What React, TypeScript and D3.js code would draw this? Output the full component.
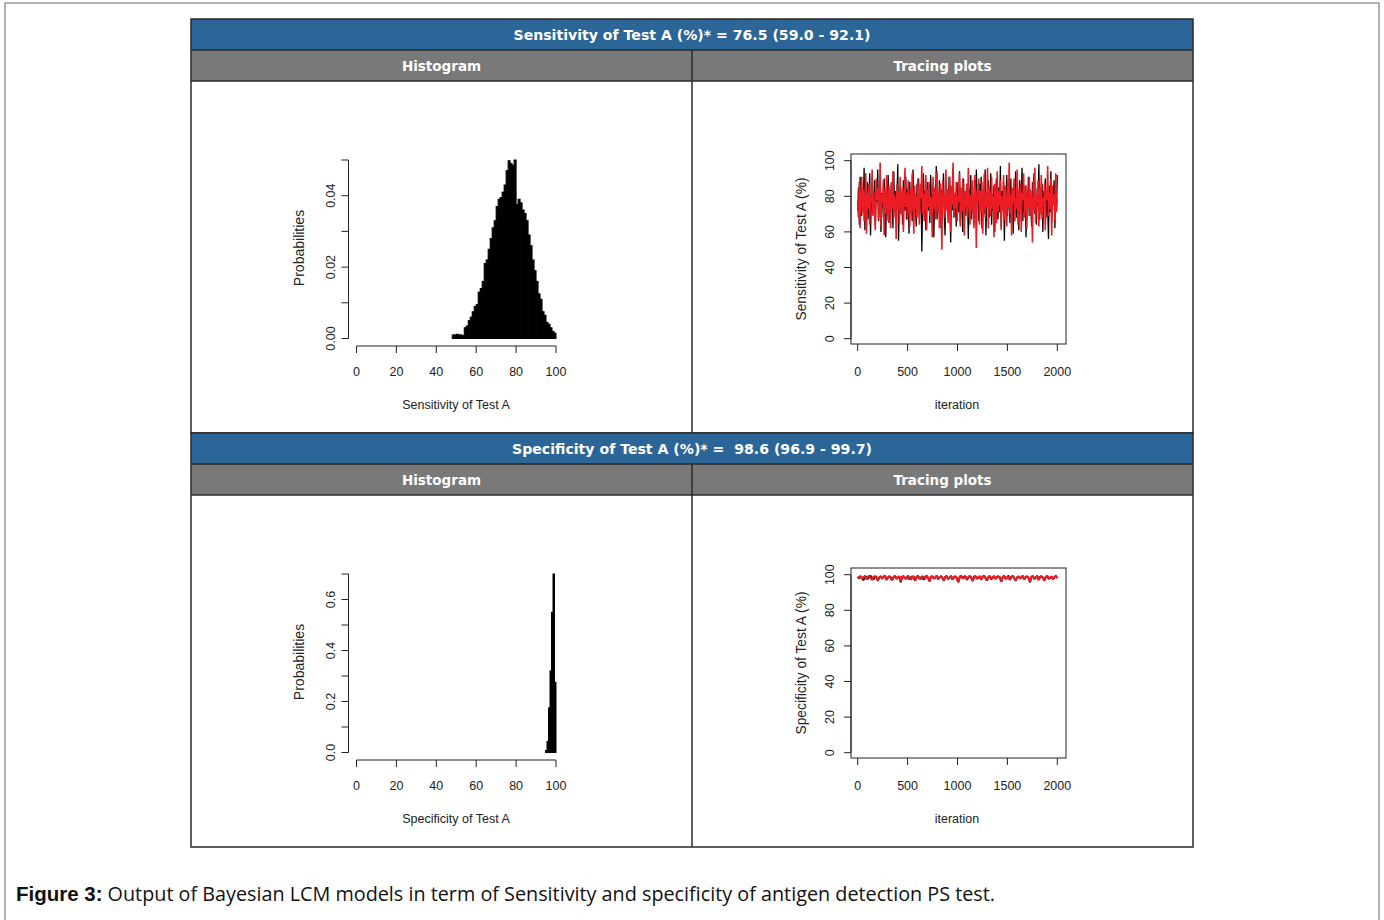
import React, { useEffect, useRef } from "react";
import * as d3 from "d3";

// histogram of sensitivity, bins of width 1 starting at 48
const sensHistStart = 48;
const sensHistProbs = [
  0.001, 0.001, 0.0012, 0.001, 0.001, 0.0008, 0.003, 0.0035, 0.005, 0.006,
  0.0075, 0.009, 0.0095, 0.013, 0.014, 0.016, 0.021, 0.022, 0.025, 0.028,
  0.031, 0.033, 0.037, 0.039, 0.0395, 0.041, 0.043, 0.047, 0.0498, 0.049,
  0.0485, 0.05, 0.0375, 0.039, 0.038, 0.036, 0.035, 0.033, 0.029, 0.026,
  0.022, 0.019, 0.016, 0.0125, 0.011, 0.0075, 0.0065, 0.0045, 0.004, 0.003,
  0.002, 0.0015,
];

// histogram of specificity
const specHistEdges = [94.75, 95.5, 96.25, 97, 97.75, 98.5, 99.25, 100];
const specHistProbs = [0.008, 0.043, 0.175, 0.32, 0.55, 0.7, 0.275];

// tracing plot chains (thinned)
const sensChain1 = [
  72, 85, 64, 91, 78, 69, 83, 74, 96, 61, 80, 71, 88, 67, 76, 93, 58, 79, 84, 70,
  75, 89, 63, 81, 77, 95, 66, 73, 86, 60, 82, 79, 68, 90, 74, 57, 85, 78, 92, 65,
  80, 71, 87, 76, 62, 94, 73, 83, 69, 79, 98, 55, 77, 86, 70, 81, 64, 89, 75, 72,
  91, 67, 84, 78, 59, 88, 74, 80, 66, 95, 71, 82, 77, 63, 87, 73, 90, 68, 79, 85,
  49, 76, 93, 70, 83, 61, 78, 88, 72, 81, 65, 92, 75, 69, 86, 57, 80, 74, 97, 67,
  82, 71, 89, 76, 62, 84, 79, 93, 70, 58, 87, 73, 81, 66, 91, 77, 54, 85, 72, 96,
  68, 80, 75, 63, 88, 78, 71, 94, 65, 83, 76, 60, 90, 74, 82, 69, 87, 79, 56, 84,
  73, 92, 67, 81, 77, 64, 89, 71, 95, 78,
  80, 66, 87, 73, 91, 62, 78, 84, 70, 95, 58, 82, 75, 89, 68, 77, 93, 64, 81, 72,
  86, 60, 79, 90, 74, 67, 85, 71, 97, 63, 83, 76, 88, 55, 80, 73, 92, 69, 84, 78,
  65, 90, 72, 81, 59, 87, 75, 94, 68, 79, 83, 61, 89, 74, 77, 96, 66, 82, 71, 86,
  57, 80, 76, 91, 69, 84, 73, 63, 88, 78, 93, 70, 81, 64, 85, 75, 98, 67, 79, 72,
  87, 60, 83, 76, 90, 68, 82, 74, 56, 86, 71, 94, 65, 80, 77, 89, 62, 84, 73, 92,
];
const sensChain2 = [
  75, 68, 88, 62, 79, 91, 71, 84, 66, 77, 93, 59, 82, 73, 87, 64, 80, 76, 95, 69,
  83, 72, 61, 90, 78, 85, 67, 74, 99, 63, 81, 76, 89, 58, 84, 70, 92, 75, 66, 86,
  79, 62, 88, 73, 94, 68, 81, 77, 56, 87, 72, 83, 65, 91, 78, 70, 85, 60, 79, 96,
  74, 82, 67, 89, 76, 63, 84, 71, 93, 77, 59, 86, 73, 80, 68, 90, 75, 64, 87, 79,
  97, 70, 82, 66, 78, 92, 61, 84, 74, 88, 69, 80, 76, 57, 91, 73, 85, 67, 79, 94,
  71, 83, 62, 87, 76, 50, 89, 74, 81, 68, 95, 72, 84, 65, 78, 91, 60, 86, 75, 99,
  69, 82, 73, 88, 66, 80, 77, 93, 63, 85, 71, 90, 76, 58, 83, 74, 87, 68, 96, 79,
  64, 81, 72, 89, 75, 62, 92, 78, 51, 84,
  77, 90, 64, 83, 71, 88, 59, 79, 93, 68, 82, 74, 96, 62, 85, 76, 69, 91, 73, 80,
  57, 87, 78, 65, 94, 71, 83, 75, 89, 61, 80, 72, 92, 67, 86, 77, 63, 88, 74, 99,
  70, 81, 58, 85, 76, 90, 66, 79, 73, 95, 64, 84, 71, 87, 60, 82, 78, 93, 68, 75,
  86, 62, 80, 74, 91, 69, 83, 77, 54, 88, 72, 96, 65, 81, 76, 89, 63, 85, 70, 92,
  67, 79, 74, 87, 61, 84, 78, 97, 69, 82, 73, 90, 58, 86, 75, 81, 66, 93, 71, 79,
];
const specChain1 = [
  98.6, 97.9, 99.1, 98.2, 96.8, 99.3, 98.7, 97.5, 98.9, 99.4, 98.1, 97.2, 98.8, 99.0, 96.5,
  98.4, 99.2, 97.8, 98.6, 99.5, 97.0, 98.3, 99.1, 98.0, 96.9, 98.7, 99.3, 97.6, 98.5, 99.0,
  95.8, 98.8, 99.2, 97.9, 98.4, 99.4, 97.3, 98.6, 99.0, 98.1, 96.6, 98.9, 99.3, 97.7, 98.5,
  99.1, 97.1, 98.7, 99.4, 98.2, 96.2, 98.8, 99.0, 97.8, 98.3, 99.5, 97.4, 98.6, 99.2, 98.0,
  96.7, 98.9, 99.1, 97.6, 98.4, 99.3, 97.2, 98.7, 99.0, 98.1, 95.9, 98.5, 99.4, 97.9, 98.8,
  99.2, 97.0, 98.3, 99.1, 98.6, 96.4, 98.9, 99.3, 97.7, 98.2, 99.0, 97.5, 98.8, 99.4, 98.0,
  96.8, 98.6, 99.1, 97.3, 98.5, 99.2, 97.8, 98.4, 99.0, 98.7, 96.1, 98.9, 99.3, 97.6, 98.3,
  99.5, 97.1, 98.7, 99.2, 98.2, 96.5, 98.6, 99.0, 97.9, 98.4, 99.3, 97.4, 98.8, 99.1, 98.0,
  95.7, 98.5, 99.4, 97.7, 98.6, 99.2, 97.2, 98.9, 99.0, 98.3, 96.9, 98.7, 99.3, 97.8, 98.1,
  99.1, 97.5, 98.6, 99.4, 98.2,
];
const specChain2 = [
  98.9, 98.2, 99.3, 97.8, 98.6, 99.1, 97.4, 98.7, 99.4, 98.0, 97.1, 98.8, 99.2, 98.3, 96.9,
  98.5, 99.0, 97.7, 98.9, 99.5, 97.3, 98.4, 99.1, 98.6, 97.0, 98.8, 99.3, 97.9, 98.2, 99.2,
  96.4, 98.7, 99.0, 98.1, 97.6, 99.4, 98.5, 97.2, 98.9, 99.1, 96.8, 98.3, 99.3, 98.0, 97.5,
  99.0, 98.6, 97.8, 99.2, 98.4, 96.6, 98.9, 99.1, 97.9, 98.5, 99.4, 97.4, 98.7, 99.0, 98.2,
  97.0, 98.8, 99.3, 97.6, 98.4, 99.1, 97.3, 98.6, 99.2, 98.1, 95.6, 98.9, 99.4, 97.8, 98.3,
  99.0, 97.5, 98.7, 99.3, 98.5, 96.7, 98.2, 99.1, 97.9, 98.6, 99.2, 97.1, 98.8, 99.0, 98.4,
  96.9, 98.7, 99.4, 97.7, 98.1, 99.3, 97.6, 98.9, 99.1, 98.3, 96.3, 98.5, 99.2, 97.8, 98.6,
  99.0, 97.2, 98.8, 99.4, 98.0, 96.8, 98.4, 99.1, 97.9, 98.7, 99.3, 97.4, 98.5, 99.0, 98.2,
  96.0, 98.9, 99.2, 97.6, 98.3, 99.4, 97.0, 98.7, 99.1, 98.5, 96.6, 98.8, 99.3, 97.7, 98.2,
  99.0, 97.5, 98.6, 99.2, 98.1,
];

const histXTicks = [0, 20, 40, 60, 80, 100];
const traceXTicks = [0, 500, 1000, 1500, 2000];
const traceYTicks = [0, 20, 40, 60, 80, 100];
const iterations = 2000;

const sections = [
  {
    title: "Sensitivity of Test A (%)* = 76.5 (59.0 - 92.1)",
    xLabel: "Sensitivity of Test A",
    yLabel: "Sensitivity of Test A (%)",
    bins: sensHistProbs.map((p, i) => ({ x0: sensHistStart + i, x1: sensHistStart + i + 1, p })),
    yMax: 0.05,
    yStep: 0.01,
    digits: 2,
    chains: [sensChain1, sensChain2],
    lineWidth: [1.3, 1.6],
  },
  {
    title: "Specificity of Test A (%)* =  98.6 (96.9 - 99.7)",
    xLabel: "Specificity of Test A",
    yLabel: "Specificity of Test A (%)",
    bins: specHistProbs.map((p, i) => ({ x0: specHistEdges[i], x1: specHistEdges[i + 1], p })),
    yMax: 0.7,
    yStep: 0.1,
    digits: 1,
    chains: [specChain1, specChain2],
    lineWidth: [1.8, 2.2],
  },
];

const BLUE = "#2c6597";
const GREY = "#797979";
const LINE = "#2a2a2a";
const INK = "#222";
const RED = "#ec1c24";
const axisFont = "'Liberation Sans', Arial, sans-serif";
const headFont = "'DejaVu Sans', Verdana, sans-serif";

export default function App() {
  const ref = useRef<SVGSVGElement>(null);

  useEffect(() => {
    const svg = d3.select(ref.current);
    svg.selectAll("*").remove();

    // page frame
    svg.append("rect").attr("x", 5).attr("y", 3).attr("width", 1374).attr("height", 930)
      .attr("fill", "#fff").attr("stroke", "#9a9a9a").attr("stroke-width", 1.5);

    const left = 191, right = 1193, mid = 692;
    const sectionTops = [19, 433];

    sections.forEach((s, k) => {
      const T = sectionTops[k];
      const g = svg.append("g");

      // header rows
      g.append("rect").attr("x", left).attr("y", T).attr("width", right - left).attr("height", 31).attr("fill", BLUE);
      g.append("rect").attr("x", left).attr("y", T + 31).attr("width", right - left).attr("height", 31).attr("fill", GREY);
      g.append("text").attr("x", mid).attr("y", T + 16).attr("text-anchor", "middle").attr("dominant-baseline", "central")
        .attr("font-family", headFont).attr("font-weight", "bold").attr("font-size", 14.1).attr("fill", "#fff")
        .style("white-space", "pre").text(s.title);
      [["Histogram", (left + mid) / 2], ["Tracing plots", (mid + right) / 2]].forEach(([t, cx]) => {
        g.append("text").attr("x", cx as number).attr("y", T + 47).attr("text-anchor", "middle").attr("dominant-baseline", "central")
          .attr("font-family", headFont).attr("font-weight", "bold").attr("font-size", 13.5).attr("fill", "#fff").text(t as string);
      });
      g.append("rect").attr("x", left).attr("y", T).attr("width", right - left).attr("height", 414)
        .attr("fill", "none").attr("stroke", LINE).attr("stroke-width", 1.5);
      g.append("line").attr("x1", left).attr("x2", right).attr("y1", T + 31).attr("y2", T + 31).attr("stroke", LINE).attr("stroke-width", 1.5);
      g.append("line").attr("x1", left).attr("x2", right).attr("y1", T + 62).attr("y2", T + 62).attr("stroke", LINE).attr("stroke-width", 1.5);
      g.append("line").attr("x1", mid).attr("x2", mid).attr("y1", T + 31).attr("y2", T + 414).attr("stroke", LINE).attr("stroke-width", 1.5);

      // ---- histogram ----
      const hx = d3.scaleLinear().domain([0, 100]).range([356.5, 556]);
      const hy = d3.scaleLinear().domain([0, s.yMax]).range([T + 319.5, T + 141]);
      const hist = g.append("g");
      hist.selectAll("rect.bar").data(s.bins).join("rect").attr("class", "bar")
        .attr("x", d => hx(d.x0)).attr("width", d => hx(d.x1) - hx(d.x0))
        .attr("y", d => hy(d.p)).attr("height", d => hy(0) - hy(d.p))
        .attr("fill", "#000").attr("stroke", "#000").attr("stroke-width", 1);

      const yTicks = d3.range(0, s.yMax + s.yStep / 2, s.yStep);
      const axX = 348.5;
      hist.append("line").attr("x1", axX).attr("x2", axX).attr("y1", hy(0)).attr("y2", hy(s.yMax)).attr("stroke", INK);
      hist.selectAll("line.yt").data(yTicks).join("line").attr("class", "yt")
        .attr("x1", axX - 7).attr("x2", axX).attr("y1", d => hy(d)).attr("y2", d => hy(d)).attr("stroke", INK);
      hist.selectAll("text.yl").data(yTicks.filter((_, i) => i % 2 === 0)).join("text").attr("class", "yl")
        .attr("transform", d => `translate(331,${hy(d)}) rotate(-90)`)
        .attr("text-anchor", "middle").attr("dominant-baseline", "central")
        .attr("font-family", axisFont).attr("font-size", 12.5).attr("fill", INK)
        .text(d => d.toFixed(s.digits));
      hist.append("text").attr("transform", `translate(299,${T + 229}) rotate(-90)`)
        .attr("text-anchor", "middle").attr("dominant-baseline", "central")
        .attr("font-family", axisFont).attr("font-size", 14).attr("fill", INK).text("Probabilities");

      const axY = T + 327;
      hist.append("line").attr("x1", hx(0)).attr("x2", hx(100)).attr("y1", axY).attr("y2", axY).attr("stroke", INK);
      hist.selectAll("line.xt").data(histXTicks).join("line").attr("class", "xt")
        .attr("x1", d => hx(d)).attr("x2", d => hx(d)).attr("y1", axY).attr("y2", axY + 7).attr("stroke", INK);
      hist.selectAll("text.xl").data(histXTicks).join("text").attr("class", "xl")
        .attr("x", d => hx(d)).attr("y", T + 353).attr("text-anchor", "middle").attr("dominant-baseline", "central")
        .attr("font-family", axisFont).attr("font-size", 12.5).attr("fill", INK).text(d => d);
      hist.append("text").attr("x", 456).attr("y", T + 386).attr("text-anchor", "middle").attr("dominant-baseline", "central")
        .attr("font-family", axisFont).attr("font-size", 12.5).attr("fill", INK).text(s.xLabel);

      // ---- tracing plot ----
      const tx = d3.scaleLinear().domain([0, iterations]).range([857.7, 1057.3]);
      const ty = d3.scaleLinear().domain([0, 100]).range([T + 319.7, T + 141.7]);
      const tr = g.append("g");
      const boxL = 851, boxR = 1066, boxT = T + 135, boxB = T + 325;

      s.chains.forEach((chain, ci) => {
        const line = d3.line<number>()
          .x((_, i) => tx((i * iterations) / (chain.length - 1)))
          .y(d => ty(d));
        tr.append("path").attr("d", line(chain) as string).attr("fill", "none")
          .attr("stroke", ci === 0 ? "#000" : RED).attr("stroke-width", s.lineWidth[ci])
          .attr("stroke-linejoin", "bevel");
      });

      tr.append("rect").attr("x", boxL).attr("y", boxT).attr("width", boxR - boxL).attr("height", boxB - boxT)
        .attr("fill", "none").attr("stroke", INK);
      tr.append("line").attr("x1", boxL).attr("x2", boxL).attr("y1", ty(0)).attr("y2", ty(100)).attr("stroke", INK);
      tr.selectAll("line.yt").data(traceYTicks).join("line").attr("class", "yt")
        .attr("x1", boxL - 7).attr("x2", boxL).attr("y1", d => ty(d)).attr("y2", d => ty(d)).attr("stroke", INK);
      tr.selectAll("text.yl").data(traceYTicks).join("text").attr("class", "yl")
        .attr("transform", d => `translate(830,${ty(d)}) rotate(-90)`)
        .attr("text-anchor", "middle").attr("dominant-baseline", "central")
        .attr("font-family", axisFont).attr("font-size", 12.5).attr("fill", INK).text(d => d);
      tr.append("text").attr("transform", `translate(801,${T + 230}) rotate(-90)`)
        .attr("text-anchor", "middle").attr("dominant-baseline", "central")
        .attr("font-family", axisFont).attr("font-size", 13.8).attr("fill", INK).text(s.yLabel);
      tr.selectAll("line.xt").data(traceXTicks).join("line").attr("class", "xt")
        .attr("x1", d => tx(d)).attr("x2", d => tx(d)).attr("y1", boxB).attr("y2", boxB + 7).attr("stroke", INK);
      tr.selectAll("text.xl").data(traceXTicks).join("text").attr("class", "xl")
        .attr("x", d => tx(d)).attr("y", T + 353).attr("text-anchor", "middle").attr("dominant-baseline", "central")
        .attr("font-family", axisFont).attr("font-size", 12.5).attr("fill", INK).text(d => d);
      tr.append("text").attr("x", 957).attr("y", T + 386).attr("text-anchor", "middle").attr("dominant-baseline", "central")
        .attr("font-family", axisFont).attr("font-size", 12.5).attr("fill", INK).text("iteration");
    });

    // caption
    const cap = svg.append("text").attr("x", 16).attr("y", 901).attr("fill", "#111");
    cap.append("tspan").attr("font-family", axisFont).attr("font-weight", "bold").attr("font-size", 20.5).text("Figure 3:");
    cap.append("tspan").attr("font-family", "'Open Sans', sans-serif").attr("font-size", 19.8).attr("dx", 5)
      .text("Output of Bayesian LCM models in term of Sensitivity and specificity of antigen detection PS test.");
  }, []);

  return (
    <svg ref={ref} width={1384} height={920}
      style={{ position: "absolute", left: 0, top: 0, background: "#fff" }} />
  );
}
